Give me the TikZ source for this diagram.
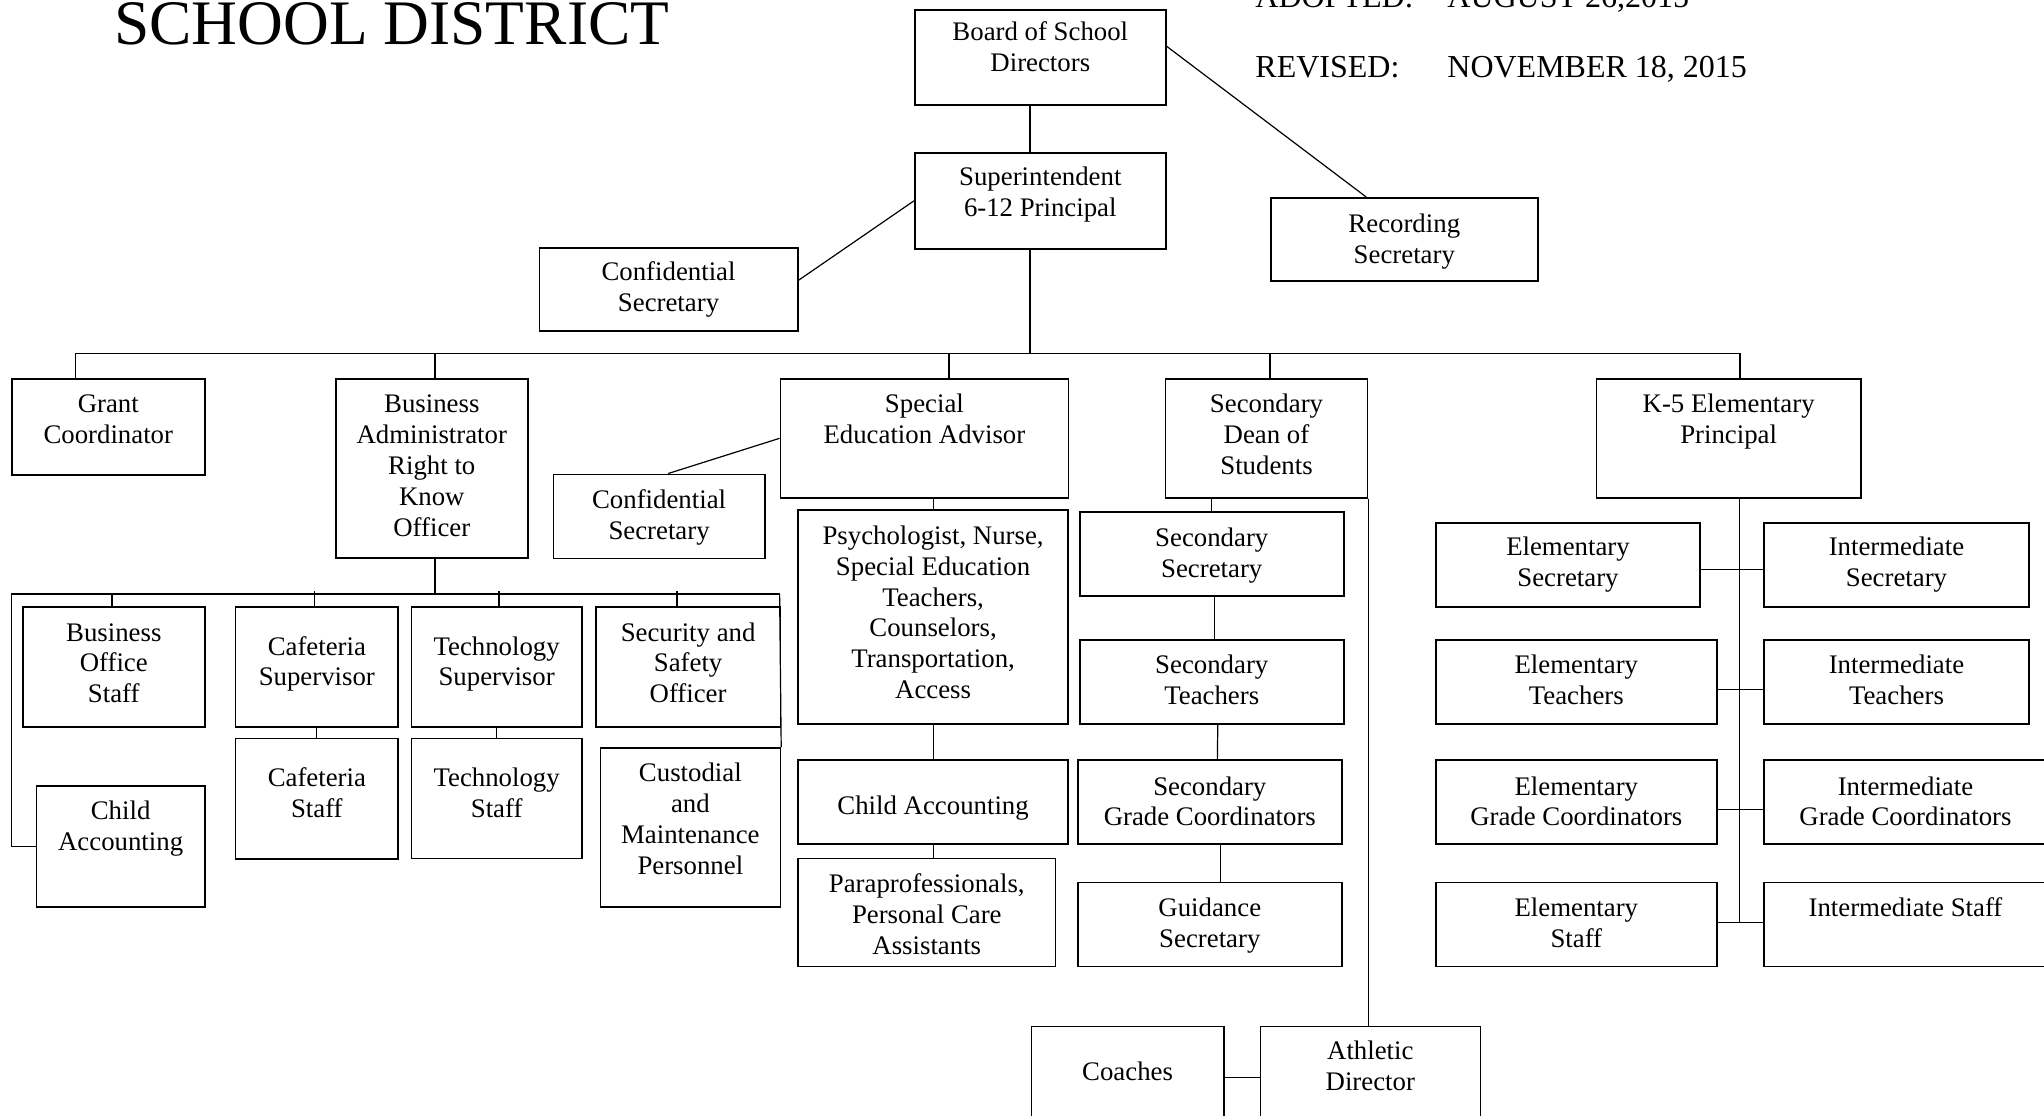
\documentclass[tikz,border=0pt]{standalone}
\usepackage{fontspec}
\setmainfont{Liberation Serif}
\newdimen\pxu \pxu=0.5bp
% text of a box: width, height, first baseline (all in px), lines
\newcommand{\boxtext}[4]{\parbox[c][#2\pxu][t]{#1\pxu}{\centering\rule{0pt}{#3\pxu}#4\par}}
\tikzset{
  orgbox/.style={draw=black,line width=0.8bp,inner sep=0pt,anchor=north west,font=\fontsize{13.4bp}{15.4bp}\selectfont},
  datetext/.style={anchor=base west,inner sep=0pt,font=\fontsize{16bp}{19bp}\selectfont},
  conn/.style={black,line width=0.6bp},
}
\begin{document}
\begin{tikzpicture}[x=0.5bp,y=-0.5bp]
\useasboundingbox (0,0) rectangle (2044,1115);
%%
\node (title) at (114,44.3) [anchor=base west,inner sep=0pt,font=\fontsize{31.7bp}{36bp}\selectfont] {SCHOOL DISTRICT};
\node (adopted) at (1255,7) [datetext] {ADOPTED:};
\node (adopted_date) at (1447,7) [datetext] {AUGUST 26,2015};
\node (revised) at (1255,77.3) [datetext] {REVISED:};
\node (revised_date) at (1447,77.3) [datetext] {NOVEMBER 18, 2015};
%%
\node (board) at (914,9) [orgbox] {\boxtext{251}{95}{31}{Board of School\\Directors}};
\node (superintendent) at (914,152) [orgbox] {\boxtext{251}{96}{33}{Superintendent\\6-12 Principal}};
\node (conf_sec_top) at (538.5,247) [orgbox] {\boxtext{258.5}{83}{33}{Confidential\\Secretary}};
\node (recording_sec) at (1270,197) [orgbox] {\boxtext{267}{83}{35}{Recording\\Secretary}};
%%
\node (grant) at (11,378) [orgbox] {\boxtext{193}{96}{34}{Grant\\Coordinator}};
\node (business_admin) at (335,378) [orgbox] {\boxtext{192}{179}{34}{Business\\Administrator\\Right to\\Know\\Officer}};
\node (special_ed) at (779.6,378) [orgbox] {\boxtext{288}{119}{34}{Special\\Education Advisor}};
\node (conf_sec_sped) at (552.6,473.5) [orgbox] {\boxtext{211.4}{84}{34}{Confidential\\Secretary}};
\node (dean) at (1164.7,378) [orgbox] {\boxtext{202}{119}{34}{Secondary\\Dean of\\Students}};
\node (k5_principal) at (1595.7,378) [orgbox] {\boxtext{264.3}{119}{34}{K-5 Elementary\\Principal}};
%%
\node (bo_staff) at (22,606.3) [orgbox] {\boxtext{182}{120}{34}{Business\\Office\\Staff}};
\node (caf_sup) at (234.7,606.3) [orgbox] {\boxtext{162.7}{120}{48}{Cafeteria\\Supervisor}};
\node (tech_sup) at (410.7,606.3) [orgbox] {\boxtext{170.3}{120}{48}{Technology\\Supervisor}};
\node (security) at (595,606.3) [orgbox] {\boxtext{184.6}{120}{34}{Security and\\Safety\\Officer}};
\node (caf_staff) at (234.7,737.6) [orgbox] {\boxtext{162.7}{120.4}{48}{Cafeteria\\Staff}};
\node (tech_staff) at (410.7,737.6) [orgbox] {\boxtext{170.3}{120}{48}{Technology\\Staff}};
\node (child_acc_ba) at (35.7,785.4) [orgbox] {\boxtext{168.3}{120.6}{33}{Child\\Accounting}};
\node (custodial) at (599.5,747) [orgbox] {\boxtext{180.1}{159}{34}{Custodial\\and\\Maintenance\\Personnel}};
%%
\node (psych) at (797.2,509) [orgbox] {\boxtext{270.2}{214.3}{34.6}{Psychologist, Nurse,\\Special Education\\Teachers,\\Counselors,\\Transportation,\\Access}};
\node (child_acc_se) at (797.2,759.3) [orgbox] {\boxtext{270.2}{84}{54}{Child Accounting}};
\node (para) at (797.2,857.7) [orgbox] {\boxtext{257.6}{108}{34}{Paraprofessionals,\\Personal Care\\Assistants}};
%%
\node (sec_secretary) at (1078.9,511) [orgbox] {\boxtext{264.1}{84.3}{35}{Secondary\\Secretary}};
\node (sec_teachers) at (1078.9,639) [orgbox] {\boxtext{264.1}{84.3}{34}{Secondary\\Teachers}};
\node (sec_grade) at (1077,759.3) [orgbox] {\boxtext{264}{84}{35}{Secondary\\Grade Coordinators}};
\node (guidance) at (1077,881.7) [orgbox] {\boxtext{264}{84}{34}{Guidance\\Secretary}};
\node (coaches) at (1030.6,1025.7) [orgbox] {\boxtext{192.4}{102.6}{54}{Coaches}};
\node (athletic) at (1259.5,1025.7) [orgbox] {\boxtext{220}{102.6}{33}{Athletic\\Director}};
%%
\node (el_sec) at (1435,522) [orgbox] {\boxtext{264.4}{84.3}{33}{Elementary\\Secretary}};
\node (in_sec) at (1763.3,522) [orgbox] {\boxtext{264.7}{84.3}{33}{Intermediate\\Secretary}};
\node (el_teach) at (1435,639) [orgbox] {\boxtext{281}{84.3}{34}{Elementary\\Teachers}};
\node (in_teach) at (1763.3,639) [orgbox] {\boxtext{264.7}{84.3}{34}{Intermediate\\Teachers}};
\node (el_grade) at (1435,759.3) [orgbox] {\boxtext{281}{84}{35}{Elementary\\Grade Coordinators}};
\node (in_grade) at (1763.3,759.3) [orgbox] {\boxtext{282.7}{84}{35}{Intermediate\\Grade Coordinators}};
\node (el_staff) at (1435,881.7) [orgbox] {\boxtext{281}{84}{34}{Elementary\\Staff}};
\node (in_staff) at (1763.3,881.7) [orgbox] {\boxtext{282.7}{84}{34}{Intermediate Staff}};
%%
\coordinate (trunk) at (1030,353.3);
\coordinate (bus_w) at (75.6,353.3);
\coordinate (bus_ba) at (435,353.3);
\coordinate (bus_se) at (949,353.3);
\coordinate (bus_dn) at (1270,353.3);
\coordinate (bus_e) at (1740,353.3);
\draw [conn] (board.south -| trunk) -- (superintendent.north -| trunk);
\draw [conn] (superintendent.south -| trunk) -- (trunk);
\draw [conn] (board.5) -- (recording_sec.132);
\draw [conn] (superintendent.west) -- (conf_sec_top.4);
\draw [conn] (bus_w) -- (bus_e);
\draw [conn] (bus_w) -- (bus_w |- grant.north);
\draw [conn] (bus_ba) -- (bus_ba |- business_admin.north);
\draw [conn] (bus_se) -- (bus_se |- special_ed.north);
\draw [conn] (bus_dn) -- (bus_dn |- dean.north);
\draw [conn] (bus_e) -- (bus_e |- k5_principal.north);
%
\coordinate (ba_hub) at (435,594);
\coordinate (ba_w) at (11.2,594);
\coordinate (ba_e) at (779.6,594);
\coordinate (t_bo) at (112,594);
\coordinate (t_caf) at (314.8,591);
\coordinate (t_tech) at (499,591);
\coordinate (t_sec) at (677,591);
\draw [conn] (business_admin.south -| ba_hub) -- (ba_hub);
\draw [conn] (ba_w) -- (ba_e);
\draw [conn] (ba_w) |- (child_acc_ba.west);
\draw [conn] (ba_e) -- (custodial.north east);
\draw [conn] (t_bo) -- (t_bo |- bo_staff.north);
\draw [conn] (t_caf) -- (t_caf |- caf_sup.north);
\draw [conn] (t_tech) -- (t_tech |- tech_sup.north);
\draw [conn] (t_sec) -- (t_sec |- security.north);
\draw [conn] (caf_sup.south) -- (caf_staff.north);
\draw [conn] (tech_sup.south) -- (tech_staff.north);
%
\draw [conn] (conf_sec_sped.78) -- (special_ed.west);
\draw [conn] (special_ed.south -| psych.north) -- (psych.north);
\draw [conn] (psych.south) -- (child_acc_se.north);
\draw [conn] (child_acc_se.south) -- (child_acc_se.south |- para.north);
%
\draw [conn] (dean.south -| sec_secretary.north) -- (sec_secretary.north);
\draw [conn] (sec_secretary.-86) -- (sec_teachers.86);
\draw [conn] (sec_teachers.-82) -- (sec_grade.80);
\draw [conn] (sec_grade.-76) -- (guidance.76);
\draw [conn] (dean.south east) -- (dean.south east |- athletic.north);
\draw [conn] (coaches.east) -- (athletic.west);
%
\coordinate (k5_a) at (1739.6,569.3);
\coordinate (k5_b) at (1739.6,689.3);
\coordinate (k5_c) at (1739.6,809.3);
\coordinate (k5_d) at (1739.6,922.7);
\draw [conn] (k5_principal.south -| k5_a) -- (k5_d);
\draw [conn] (el_sec.east |- k5_a) -- (in_sec.west |- k5_a);
\draw [conn] (el_teach.east |- k5_b) -- (in_teach.west |- k5_b);
\draw [conn] (el_grade.east |- k5_c) -- (in_grade.west |- k5_c);
\draw [conn] (el_staff.east |- k5_d) -- (in_staff.west |- k5_d);
%
\end{tikzpicture}
\end{document}
